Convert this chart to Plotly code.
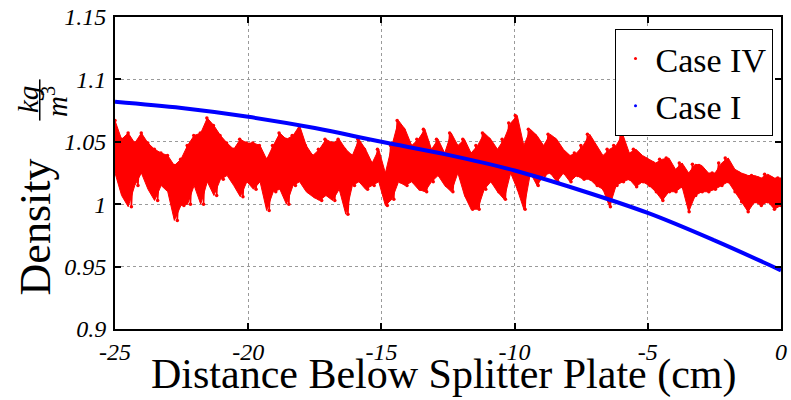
import numpy as np
import plotly.graph_objects as go

# Case IV: local upper / lower density excursions read along the x axis (kg/m^3)
case4_hi = [1.067, 1.052, 1.057, 1.049, 1.057, 1.049, 1.044, 1.041, 1.039, 1.031, 1.036, 1.047, 1.055, 1.057, 1.069, 1.063, 1.055,
            1.049, 1.044, 1.052, 1.049, 1.049, 1.047, 1.036, 1.047, 1.057, 1.052, 1.055, 1.063, 1.047, 1.039, 1.044, 1.052, 1.049,
            1.052, 1.044, 1.039, 1.052, 1.044, 1.033, 1.044, 1.025, 1.047, 1.067, 1.060, 1.047, 1.052, 1.060, 1.044, 1.052, 1.041,
            1.057, 1.047, 1.052, 1.041, 1.047, 1.057, 1.052, 1.044, 1.052, 1.065, 1.071, 1.047, 1.060, 1.055, 1.047, 1.056, 1.052,
            1.044, 1.039, 1.041, 1.047, 1.056, 1.047, 1.039, 1.044, 1.047, 1.056, 1.041, 1.044, 1.039, 1.036, 1.033, 1.036, 1.037,
            1.028, 1.033, 1.025, 1.032, 1.031, 1.025, 1.025, 1.033, 1.037, 1.028, 1.025, 1.023, 1.023, 1.021, 1.024, 1.021, 1.021]
case4_lo = [1.025, 1.007, 0.998, 1.015, 1.025, 1.012, 1.003, 1.015, 1.010, 0.987, 0.999, 1.000, 1.015, 1.000, 1.018, 1.007, 1.020,
            1.023, 1.015, 1.006, 1.018, 1.012, 1.018, 0.995, 1.010, 1.012, 1.000, 1.015, 1.018, 1.010, 1.006, 1.003, 1.007, 1.003,
            1.012, 0.992, 1.015, 1.018, 1.012, 1.015, 1.018, 0.999, 1.004, 1.018, 1.015, 1.018, 1.012, 1.010, 1.018, 1.023, 1.015,
            1.010, 1.025, 1.007, 0.996, 0.996, 1.012, 1.018, 1.010, 1.004, 1.025, 1.012, 0.996, 1.025, 1.015, 1.023, 1.025, 1.018,
            1.025, 1.018, 1.023, 1.020, 1.020, 1.015, 1.012, 0.998, 1.015, 1.018, 1.020, 1.014, 1.018, 1.015, 1.010, 1.003, 1.010,
            1.010, 1.014, 0.994, 1.007, 1.010, 1.010, 1.012, 1.015, 1.018, 1.010, 1.002, 0.994, 1.002, 0.999, 1.002, 0.996, 0.999]

# Case I: smooth profile
case1_x = [-25, -22.5, -20, -17.5, -15, -12.5, -10, -7.5, -5, -2.5, 0]
case1_y = [1.082, 1.077, 1.070, 1.061, 1.050, 1.0395, 1.027, 1.011, 0.993, 0.971, 0.947]

x_ticks = [-25, -20, -15, -10, -5, 0]
x_labels = ["-25", "-20", "-15", "-10", "-5", "0"]
y_ticks = [0.9, 0.95, 1.0, 1.05, 1.1, 1.15]
y_labels = ["0.9", "0.95", "1", "1.05", "1.1", "1.15"]

case4_y = []
for h, l in zip(case4_hi, case4_lo):
    case4_y += [h, l]
case4_x = np.linspace(-25, 0, len(case4_y))
band_x = np.linspace(-25, 0, len(case4_hi))

RED = "#ff0000"
BLUE = "#0000ff"
SERIF = "Liberation Serif, Times New Roman, DejaVu Serif, serif"

fig = go.Figure()
# filled body of the noisy Case IV signal
fig.add_trace(go.Scatter(x=band_x, y=case4_lo, mode="lines", line=dict(color=RED, width=1),
                         showlegend=False, hoverinfo="skip"))
fig.add_trace(go.Scatter(x=band_x, y=case4_hi, mode="lines", line=dict(color=RED, width=1),
                         fill="tonexty", fillcolor=RED, showlegend=False, hoverinfo="skip"))
fig.add_trace(go.Scatter(x=case4_x, y=case4_y, mode="lines+markers",
                         line=dict(color=RED, width=1.5), marker=dict(color=RED, size=3.5),
                         showlegend=False, hoverinfo="skip"))
fig.add_trace(go.Scatter(x=case1_x, y=case1_y, mode="lines", line=dict(color=BLUE, width=4, shape="spline"),
                         showlegend=False))
# legend entries (dot markers like the original)
fig.add_trace(go.Scatter(x=[None], y=[None], mode="markers", marker=dict(color=RED, size=3), name="Case IV"))
fig.add_trace(go.Scatter(x=[None], y=[None], mode="markers", marker=dict(color=BLUE, size=3), name="Case I"))

tick_font = dict(family=SERIF, size=24, color="black")
axis_common = dict(showline=True, mirror="ticks", linecolor="black", linewidth=2,
                   ticks="inside", ticklen=6, tickwidth=1.5, tickcolor="black",
                   showgrid=True, gridcolor="#9a9a9a", griddash="dot", gridwidth=1,
                   zeroline=False, tickfont=tick_font)

fig.update_xaxes(range=[-25, 0], tickvals=x_ticks, ticktext=["<i>%s</i>" % t for t in x_labels],
                 ticklabelstandoff=0, **axis_common)
fig.update_yaxes(range=[0.9, 1.15], tickvals=y_ticks, ticktext=["<i>%s</i>" % t for t in y_labels],
                 ticklabelstandoff=2, **axis_common)

fig.update_layout(
    width=791, height=400,
    margin=dict(l=115, r=4, t=15, b=71),
    paper_bgcolor="white", plot_bgcolor="white",
    legend=dict(x=0.750, y=0.962, xanchor="left", yanchor="top",
                bgcolor="white", bordercolor="black", borderwidth=1,
                font=dict(family=SERIF, size=34, color="black"),
                itemwidth=30, tracegroupgap=0, traceorder="normal"),
    annotations=[
        dict(text="Distance Below Splitter Plate (cm)", xref="paper", yref="paper",
             x=0.494, y=-0.145, xanchor="center", yanchor="middle", showarrow=False,
             borderpad=0, font=dict(family=SERIF, size=42, color="black")),
        dict(text="Density", xref="paper", yref="paper", x=-0.119, y=0.328,
             xanchor="center", yanchor="middle", textangle=-90, showarrow=False,
             font=dict(family=SERIF, size=44, color="black")),
        dict(text="<i>kg</i>", xref="paper", yref="paper", x=-0.1295, y=0.736,
             xanchor="center", yanchor="middle", textangle=-90, showarrow=False,
             font=dict(family=SERIF, size=29, color="black")),
        dict(text="<i>m</i><sup>3</sup>", xref="paper", yref="paper", x=-0.091, y=0.729,
             xanchor="center", yanchor="middle", textangle=-90, showarrow=False,
             font=dict(family=SERIF, size=29, color="black")),
    ],
    shapes=[dict(type="line", xref="paper", yref="paper", x0=-0.113, x1=-0.113,
                 y0=0.668, y1=0.800, line=dict(color="black", width=1.5))],
)

fig.write_html("out.html", config={"displayModeBar": False},
               post_script="document.body.style.margin='0px';document.body.style.overflow='hidden';")
